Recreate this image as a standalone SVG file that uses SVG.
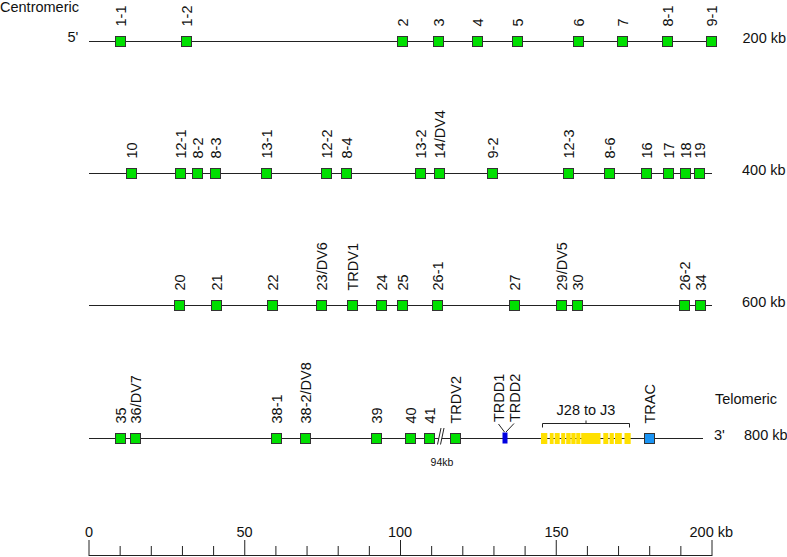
<svg xmlns="http://www.w3.org/2000/svg" width="787" height="557" viewBox="0 0 787 557">
<style>
text { font-family: "Liberation Sans", Arial, sans-serif; font-size: 14.5px; fill: #111; }
.v rect { fill: #00e000; stroke: #333; stroke-width: 1; }
.ln { stroke: #222; stroke-width: 1; fill: none; }
.tk { stroke: #222; stroke-width: 1; }
.small { font-size: 10.5px; }
.mid { text-anchor: middle; }
</style>
<rect width="787" height="557" fill="#fff"/>

<g id="connectors">
  <line class="ln" x1="89" y1="41.5" x2="712" y2="41.5"/>
  <line class="ln" x1="89" y1="173.5" x2="712" y2="173.5"/>
  <line class="ln" x1="89" y1="305.5" x2="712" y2="305.5"/>
  <line class="ln" x1="89" y1="438.5" x2="703" y2="438.5"/>
  <line class="ln" x1="504.5" y1="432" x2="498.5" y2="424"/>
  <line class="ln" x1="506" y1="432" x2="514" y2="423.5"/>
</g>

<g id="side-labels">
  <text x="0" y="12">Centromeric</text>
  <text x="67.5" y="42">5'</text>
  <text x="742.5" y="42.5">200 kb</text>
  <text x="742" y="174.5">400 kb</text>
  <text x="742" y="307">600 kb</text>
  <text x="715" y="403.5">Telomeric</text>
  <text x="714" y="439.5">3'</text>
  <text x="744" y="439.5">800 kb</text>
</g>

<!-- Row 1 -->
<g id="n-1-1" class="v"><rect x="115.5" y="36.5" width="10" height="10"/><text transform="translate(125.5,26.5) rotate(-90)">1-1</text></g>
<g id="n-1-2" class="v"><rect x="181.5" y="36.5" width="10" height="10"/><text transform="translate(191.5,26.5) rotate(-90)">1-2</text></g>
<g id="n-2" class="v"><rect x="397.5" y="36.5" width="10" height="10"/><text transform="translate(407.5,26.5) rotate(-90)">2</text></g>
<g id="n-3" class="v"><rect x="433.5" y="36.5" width="10" height="10"/><text transform="translate(443.5,26.5) rotate(-90)">3</text></g>
<g id="n-4" class="v"><rect x="472.5" y="36.5" width="10" height="10"/><text transform="translate(482.5,26.5) rotate(-90)">4</text></g>
<g id="n-5" class="v"><rect x="512.5" y="36.5" width="10" height="10"/><text transform="translate(522.5,26.5) rotate(-90)">5</text></g>
<g id="n-6" class="v"><rect x="573.5" y="36.5" width="10" height="10"/><text transform="translate(583.5,26.5) rotate(-90)">6</text></g>
<g id="n-7" class="v"><rect x="617.5" y="36.5" width="10" height="10"/><text transform="translate(627.5,26.5) rotate(-90)">7</text></g>
<g id="n-8-1" class="v"><rect x="662.5" y="36.5" width="10" height="10"/><text transform="translate(672.5,26.5) rotate(-90)">8-1</text></g>
<g id="n-9-1" class="v"><rect x="706.5" y="36.5" width="10" height="10"/><text transform="translate(716.5,26.5) rotate(-90)">9-1</text></g>

<!-- Row 2 -->
<g id="n-10" class="v"><rect x="126.5" y="168.5" width="10" height="10"/><text transform="translate(136.5,158.5) rotate(-90)">10</text></g>
<g id="n-12-1" class="v"><rect x="175.5" y="168.5" width="10" height="10"/><text transform="translate(185.5,158.5) rotate(-90)">12-1</text></g>
<g id="n-8-2" class="v"><rect x="192.5" y="168.5" width="10" height="10"/><text transform="translate(202.5,158.5) rotate(-90)">8-2</text></g>
<g id="n-8-3" class="v"><rect x="210.5" y="168.5" width="10" height="10"/><text transform="translate(220.5,158.5) rotate(-90)">8-3</text></g>
<g id="n-13-1" class="v"><rect x="261.5" y="168.5" width="10" height="10"/><text transform="translate(271.5,158.5) rotate(-90)">13-1</text></g>
<g id="n-12-2" class="v"><rect x="321.5" y="168.5" width="10" height="10"/><text transform="translate(331.5,158.5) rotate(-90)">12-2</text></g>
<g id="n-8-4" class="v"><rect x="341.5" y="168.5" width="10" height="10"/><text transform="translate(351.5,158.5) rotate(-90)">8-4</text></g>
<g id="n-13-2" class="v"><rect x="415.5" y="168.5" width="10" height="10"/><text transform="translate(425.5,158.5) rotate(-90)">13-2</text></g>
<g id="n-14-DV4" class="v"><rect x="434.5" y="168.5" width="10" height="10"/><text transform="translate(444.5,158.5) rotate(-90)">14/DV4</text></g>
<g id="n-9-2" class="v"><rect x="487.5" y="168.5" width="10" height="10"/><text transform="translate(497.5,158.5) rotate(-90)">9-2</text></g>
<g id="n-12-3" class="v"><rect x="563.5" y="168.5" width="10" height="10"/><text transform="translate(573.5,158.5) rotate(-90)">12-3</text></g>
<g id="n-8-6" class="v"><rect x="604.5" y="168.5" width="10" height="10"/><text transform="translate(614.5,158.5) rotate(-90)">8-6</text></g>
<g id="n-16" class="v"><rect x="641.5" y="168.5" width="10" height="10"/><text transform="translate(651.5,158.5) rotate(-90)">16</text></g>
<g id="n-17" class="v"><rect x="663.5" y="168.5" width="10" height="10"/><text transform="translate(673.5,158.5) rotate(-90)">17</text></g>
<g id="n-18" class="v"><rect x="680.5" y="168.5" width="10" height="10"/><text transform="translate(690.5,158.5) rotate(-90)">18</text></g>
<g id="n-19" class="v"><rect x="694.5" y="168.5" width="10" height="10"/><text transform="translate(704.5,158.5) rotate(-90)">19</text></g>

<!-- Row 3 -->
<g id="n-20" class="v"><rect x="174.5" y="300.5" width="10" height="10"/><text transform="translate(184.5,290.5) rotate(-90)">20</text></g>
<g id="n-21" class="v"><rect x="211.5" y="300.5" width="10" height="10"/><text transform="translate(221.5,290.5) rotate(-90)">21</text></g>
<g id="n-22" class="v"><rect x="267.5" y="300.5" width="10" height="10"/><text transform="translate(277.5,290.5) rotate(-90)">22</text></g>
<g id="n-23-DV6" class="v"><rect x="316.5" y="300.5" width="10" height="10"/><text transform="translate(326.5,290.5) rotate(-90)">23/DV6</text></g>
<g id="n-TRDV1" class="v"><rect x="347.5" y="300.5" width="10" height="10"/><text transform="translate(357.5,290.5) rotate(-90)">TRDV1</text></g>
<g id="n-24" class="v"><rect x="376.5" y="300.5" width="10" height="10"/><text transform="translate(386.5,290.5) rotate(-90)">24</text></g>
<g id="n-25" class="v"><rect x="397.5" y="300.5" width="10" height="10"/><text transform="translate(407.5,290.5) rotate(-90)">25</text></g>
<g id="n-26-1" class="v"><rect x="432.5" y="300.5" width="10" height="10"/><text transform="translate(442.5,290.5) rotate(-90)">26-1</text></g>
<g id="n-27" class="v"><rect x="509.5" y="300.5" width="10" height="10"/><text transform="translate(519.5,290.5) rotate(-90)">27</text></g>
<g id="n-29-DV5" class="v"><rect x="556.5" y="300.5" width="10" height="10"/><text transform="translate(566.5,290.5) rotate(-90)">29/DV5</text></g>
<g id="n-30" class="v"><rect x="572.5" y="300.5" width="10" height="10"/><text transform="translate(582.5,290.5) rotate(-90)">30</text></g>
<g id="n-26-2" class="v"><rect x="679.5" y="300.5" width="10" height="10"/><text transform="translate(689.5,290.5) rotate(-90)">26-2</text></g>
<g id="n-34" class="v"><rect x="695.5" y="300.5" width="10" height="10"/><text transform="translate(705.5,290.5) rotate(-90)">34</text></g>

<!-- Row 4 -->
<g id="n-35" class="v"><rect x="115.5" y="433.5" width="10" height="10"/><text transform="translate(125.5,423.5) rotate(-90)">35</text></g>
<g id="n-36-DV7" class="v"><rect x="130.5" y="433.5" width="10" height="10"/><text transform="translate(140.5,423.5) rotate(-90)">36/DV7</text></g>
<g id="n-38-1" class="v"><rect x="271.5" y="433.5" width="10" height="10"/><text transform="translate(281.5,423.5) rotate(-90)">38-1</text></g>
<g id="n-38-2-DV8" class="v"><rect x="300.5" y="433.5" width="10" height="10"/><text transform="translate(310.5,423.5) rotate(-90)">38-2/DV8</text></g>
<g id="n-39" class="v"><rect x="371.5" y="433.5" width="10" height="10"/><text transform="translate(381.5,423.5) rotate(-90)">39</text></g>
<g id="n-40" class="v"><rect x="405.5" y="433.5" width="10" height="10"/><text transform="translate(415.5,423.5) rotate(-90)">40</text></g>
<g id="n-41" class="v"><rect x="424.5" y="433.5" width="10" height="10"/><text transform="translate(434.5,423.5) rotate(-90)">41</text></g>
<g id="n-TRDV2" class="v"><rect x="450.5" y="433.5" width="10" height="10"/><text transform="translate(460.5,423.5) rotate(-90)">TRDV2</text></g>

<g id="break-94kb">
  <polygon points="437.5,444.5 441,428 444,428 440.5,444.5" fill="#fff"/>
  <line class="ln" x1="437.5" y1="444.5" x2="441" y2="428"/>
  <line class="ln" x1="440.5" y1="444.5" x2="444" y2="428"/>
  <text class="small mid" x="442" y="466">94kb</text>
</g>

<g id="n-TRDD">
  <rect x="502.5" y="432.5" width="5" height="11" fill="#0000e0"/>
  <text transform="translate(504,422) rotate(-90)">TRDD1</text>
  <text transform="translate(520,422) rotate(-90)">TRDD2</text>
</g>

<g id="n-J28-J3">
  <g fill="#ffe000">
    <rect x="541" y="433" width="6.3" height="11"/>
    <rect x="549.8" y="433" width="3.8" height="11"/>
    <rect x="554.7" y="433" width="5" height="11"/>
    <rect x="561.2" y="433" width="4" height="11"/>
    <rect x="566.2" y="433" width="4.5" height="11"/>
    <rect x="571.3" y="433" width="4.3" height="11"/>
    <rect x="576.2" y="433" width="4.2" height="11"/>
    <rect x="581.2" y="433" width="19.3" height="11"/>
    <rect x="603.3" y="433" width="5" height="11"/>
    <rect x="609.6" y="433" width="4.2" height="11"/>
    <rect x="615" y="433" width="6.8" height="11"/>
    <rect x="624.5" y="433" width="6.2" height="11"/>
  </g>
  <path class="ln" d="M542.5,427.5 V423.5 H629.5 V427.5 M586,423.5 V420.5"/>
  <text class="mid" x="586" y="414.5">J28 to J3</text>
</g>

<g id="n-TRAC">
  <rect x="644.5" y="433.5" width="10" height="10" fill="#1a94f4" stroke="#333"/>
  <text transform="translate(654.5,423.5) rotate(-90)">TRAC</text>
</g>

<g id="axis">
  <line class="tk" x1="89" y1="555.5" x2="712" y2="555.5"/>
  <g class="tk">
    <line x1="89" y1="540" x2="89" y2="556"/>
    <line x1="120.15" y1="546" x2="120.15" y2="556"/>
    <line x1="151.3" y1="546" x2="151.3" y2="556"/>
    <line x1="182.45" y1="546" x2="182.45" y2="556"/>
    <line x1="213.6" y1="546" x2="213.6" y2="556"/>
    <line x1="244.75" y1="540" x2="244.75" y2="556"/>
    <line x1="275.9" y1="546" x2="275.9" y2="556"/>
    <line x1="307.05" y1="546" x2="307.05" y2="556"/>
    <line x1="338.2" y1="546" x2="338.2" y2="556"/>
    <line x1="369.35" y1="546" x2="369.35" y2="556"/>
    <line x1="400.5" y1="540" x2="400.5" y2="556"/>
    <line x1="431.65" y1="546" x2="431.65" y2="556"/>
    <line x1="462.8" y1="546" x2="462.8" y2="556"/>
    <line x1="493.95" y1="546" x2="493.95" y2="556"/>
    <line x1="525.1" y1="546" x2="525.1" y2="556"/>
    <line x1="556.25" y1="540" x2="556.25" y2="556"/>
    <line x1="587.4" y1="546" x2="587.4" y2="556"/>
    <line x1="618.55" y1="546" x2="618.55" y2="556"/>
    <line x1="649.7" y1="546" x2="649.7" y2="556"/>
    <line x1="680.85" y1="546" x2="680.85" y2="556"/>
    <line x1="712" y1="540" x2="712" y2="556"/>
  </g>
  <text class="mid" x="89" y="536.5">0</text>
  <text class="mid" x="244.5" y="536.5">50</text>
  <text class="mid" x="400" y="536.5">100</text>
  <text class="mid" x="556.5" y="536.5">150</text>
  <text x="689.5" y="536.5">200 kb</text>
</g>
</svg>
